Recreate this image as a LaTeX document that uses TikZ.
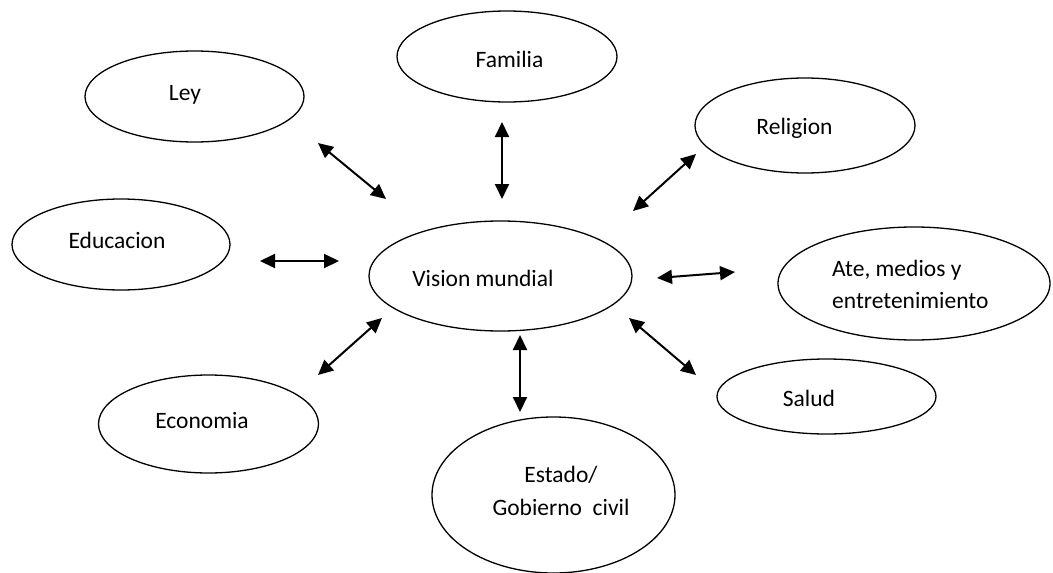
\documentclass[tikz,border=0pt]{standalone}
\usepackage{fontspec}
\setmainfont{Carlito}
\usetikzlibrary{shapes.geometric,arrows.meta}

\tikzset{
  bubble/.style={draw, ellipse, line width=1.3pt, inner sep=0pt},
  lbl/.style={anchor=base, inner sep=0pt, font=\fontsize{23.5}{28}\selectfont},
  link/.style={{Triangle[length=15pt,width=14pt]}-{Triangle[length=15pt,width=14pt]}, line width=2pt},
}

\begin{document}
\begin{tikzpicture}[x=1pt,y=-1pt]
\useasboundingbox (0,0) rectangle (1053,573);
% the bubbles
\node[bubble, minimum width=219pt, minimum height=91pt] (ley) at (194.5,96.5) {};
\node[bubble, minimum width=220pt, minimum height=91pt] (familia) at (507,56.5) {};
\node[bubble, minimum width=220pt, minimum height=95pt] (religion) at (805,125.5) {};
\node[bubble, minimum width=218pt, minimum height=91pt] (educacion) at (121,244.5) {};
\node[bubble, minimum width=263pt, minimum height=110pt] (vision) at (500.5,276) {};
\node[bubble, minimum width=272pt, minimum height=113pt] (ate) at (914,283.5) {};
\node[bubble, minimum width=219pt, minimum height=75pt] (salud) at (826.5,396.5) {};
\node[bubble, minimum width=220pt, minimum height=98pt] (economia) at (208.5,424) {};
\node[bubble, minimum width=243pt, minimum height=156pt] (estado) at (553.5,495) {};
% their texts
\node[lbl] (leyt) at (185,100) {Ley};
\node[lbl] (familiat) at (509.5,67) {Familia};
\node[lbl] (religiont) at (794.5,134) {Religion};
\node[lbl] (educaciont) at (117,248) {Educacion};
\node[lbl] (visiont) at (483,286) {Vision mundial};
\node[lbl, anchor=base west] (atea) at (832,276) {Ate, medios y};
\node[lbl, anchor=base west] (ateb) at (832,308) {entretenimiento};
\node[lbl] (saludt) at (809,406) {Salud};
\node[lbl] (economiat) at (202,428) {Economia};
\node[lbl] (estadoa) at (561,482) {Estado/};
\node[lbl] (estadob) at (561,515) {Gobierno\ \ civil};
% arrow ends
\coordinate (l1) at (318,143);   \coordinate (l2) at (386,199);
\coordinate (f1) at (502,122);   \coordinate (f2) at (502,199);
\coordinate (r1) at (633,211);   \coordinate (r2) at (696,154);
\coordinate (e1) at (260,261);   \coordinate (e2) at (339,261);
\coordinate (a1) at (657,278);   \coordinate (a2) at (735,272);
\coordinate (s1) at (629,318);   \coordinate (s2) at (696,375);
\coordinate (c1) at (318,375);   \coordinate (c2) at (382,318);
\coordinate (g1) at (520,335);   \coordinate (g2) at (520,412);
\draw[link] (l1) -- (l2);
\draw[link] (f1) -- (f2);
\draw[link] (r1) -- (r2);
\draw[link] (e1) -- (e2);
\draw[link] (a1) -- (a2);
\draw[link] (s1) -- (s2);
\draw[link] (c1) -- (c2);
\draw[link] (g1) -- (g2);
\end{tikzpicture}
\end{document}
